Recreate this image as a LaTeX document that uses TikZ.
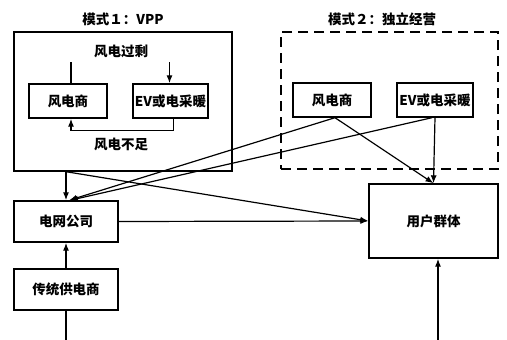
\documentclass[tikz,border=0pt]{standalone}
\usepackage{fontspec}
\setmainfont{Noto Sans CJK SC}
\usetikzlibrary{arrows.meta}
\tikzset{
  box/.style={draw, line width=1.4pt, font=\bfseries\fontsize{13.5}{15}\selectfont, inner sep=0pt},
  txt/.style={font=\bfseries\fontsize{13.5}{15}\selectfont},
  arr/.style={line width=1.2pt, -{Latex[length=8pt,width=6pt]}},
  ln/.style={line width=1.2pt}
}

\begin{document}
\begin{tikzpicture}[x=1pt,y=-1pt]
\useasboundingbox (0,0) rectangle (507,340);
\node[box, minimum width=218, minimum height=139] (vpp) at (123,101.5){};
\node[box, dash pattern=on 10pt off 6pt, line width=1.5pt, minimum width=217, minimum height=137] (indep) at (389.5,100.5){};
\node[txt] (title1) at (123,19){模式１：VPP};
\node[txt] (title2) at (382,19){模式２：独立经营};
\node[txt] (surplus) at (121,51){风电过剩};
\node[txt] (shortage) at (121,144){风电不足};
\node[box, minimum width=78, minimum height=34] (wind1) at (68,101){风电商};
\node[box, minimum width=75, minimum height=34] (ev1) at (170.5,101){EV或电采暖};
\node[box, minimum width=78, minimum height=34] (wind2) at (332,100){风电商};
\node[box, minimum width=76, minimum height=34] (ev2) at (435,100){EV或电采暖};
\node[box, minimum width=104, minimum height=41] (grid) at (66,221.5){电网公司};
\node[box, minimum width=104, minimum height=41] (trad) at (66,289.5){传统供电商};
\node[box, minimum width=129, minimum height=74] (users) at (433.5,221){用户群体};
\coordinate (tradin) at (66,340);
\coordinate (usersin) at (438,340);
\draw[ln] ([xshift=3]wind1.north) -- ++(0,-21);
\draw[arr] ([xshift=-1]ev1.north) ++(0,-21) -- ([xshift=-1]ev1.north);
\draw[arr] ([xshift=3]ev1.south) -- ++(0,12) -| ([xshift=3]wind1.south);
\draw[arr] (grid.north |- vpp.south) -- (grid.north);
\draw[arr] (grid.north |- vpp.south) -- (users.west);
\draw[arr] (grid.east) -- (users.west);
\draw[arr] (trad.north) -- (grid.south);
\draw[ln] (tradin) -- (trad.south);
\draw[arr] (usersin) -- (users.south -| usersin);
\draw[arr] ([xshift=3]wind2.south) -- ([xshift=3]grid.north);
\draw[arr] ([xshift=-3]ev2.south) -- ([xshift=4]grid.north);
\draw[arr] ([xshift=3]wind2.south) -- (users.north);
\draw[arr] (ev2.south) -- (users.north);
\end{tikzpicture}
\end{document}
